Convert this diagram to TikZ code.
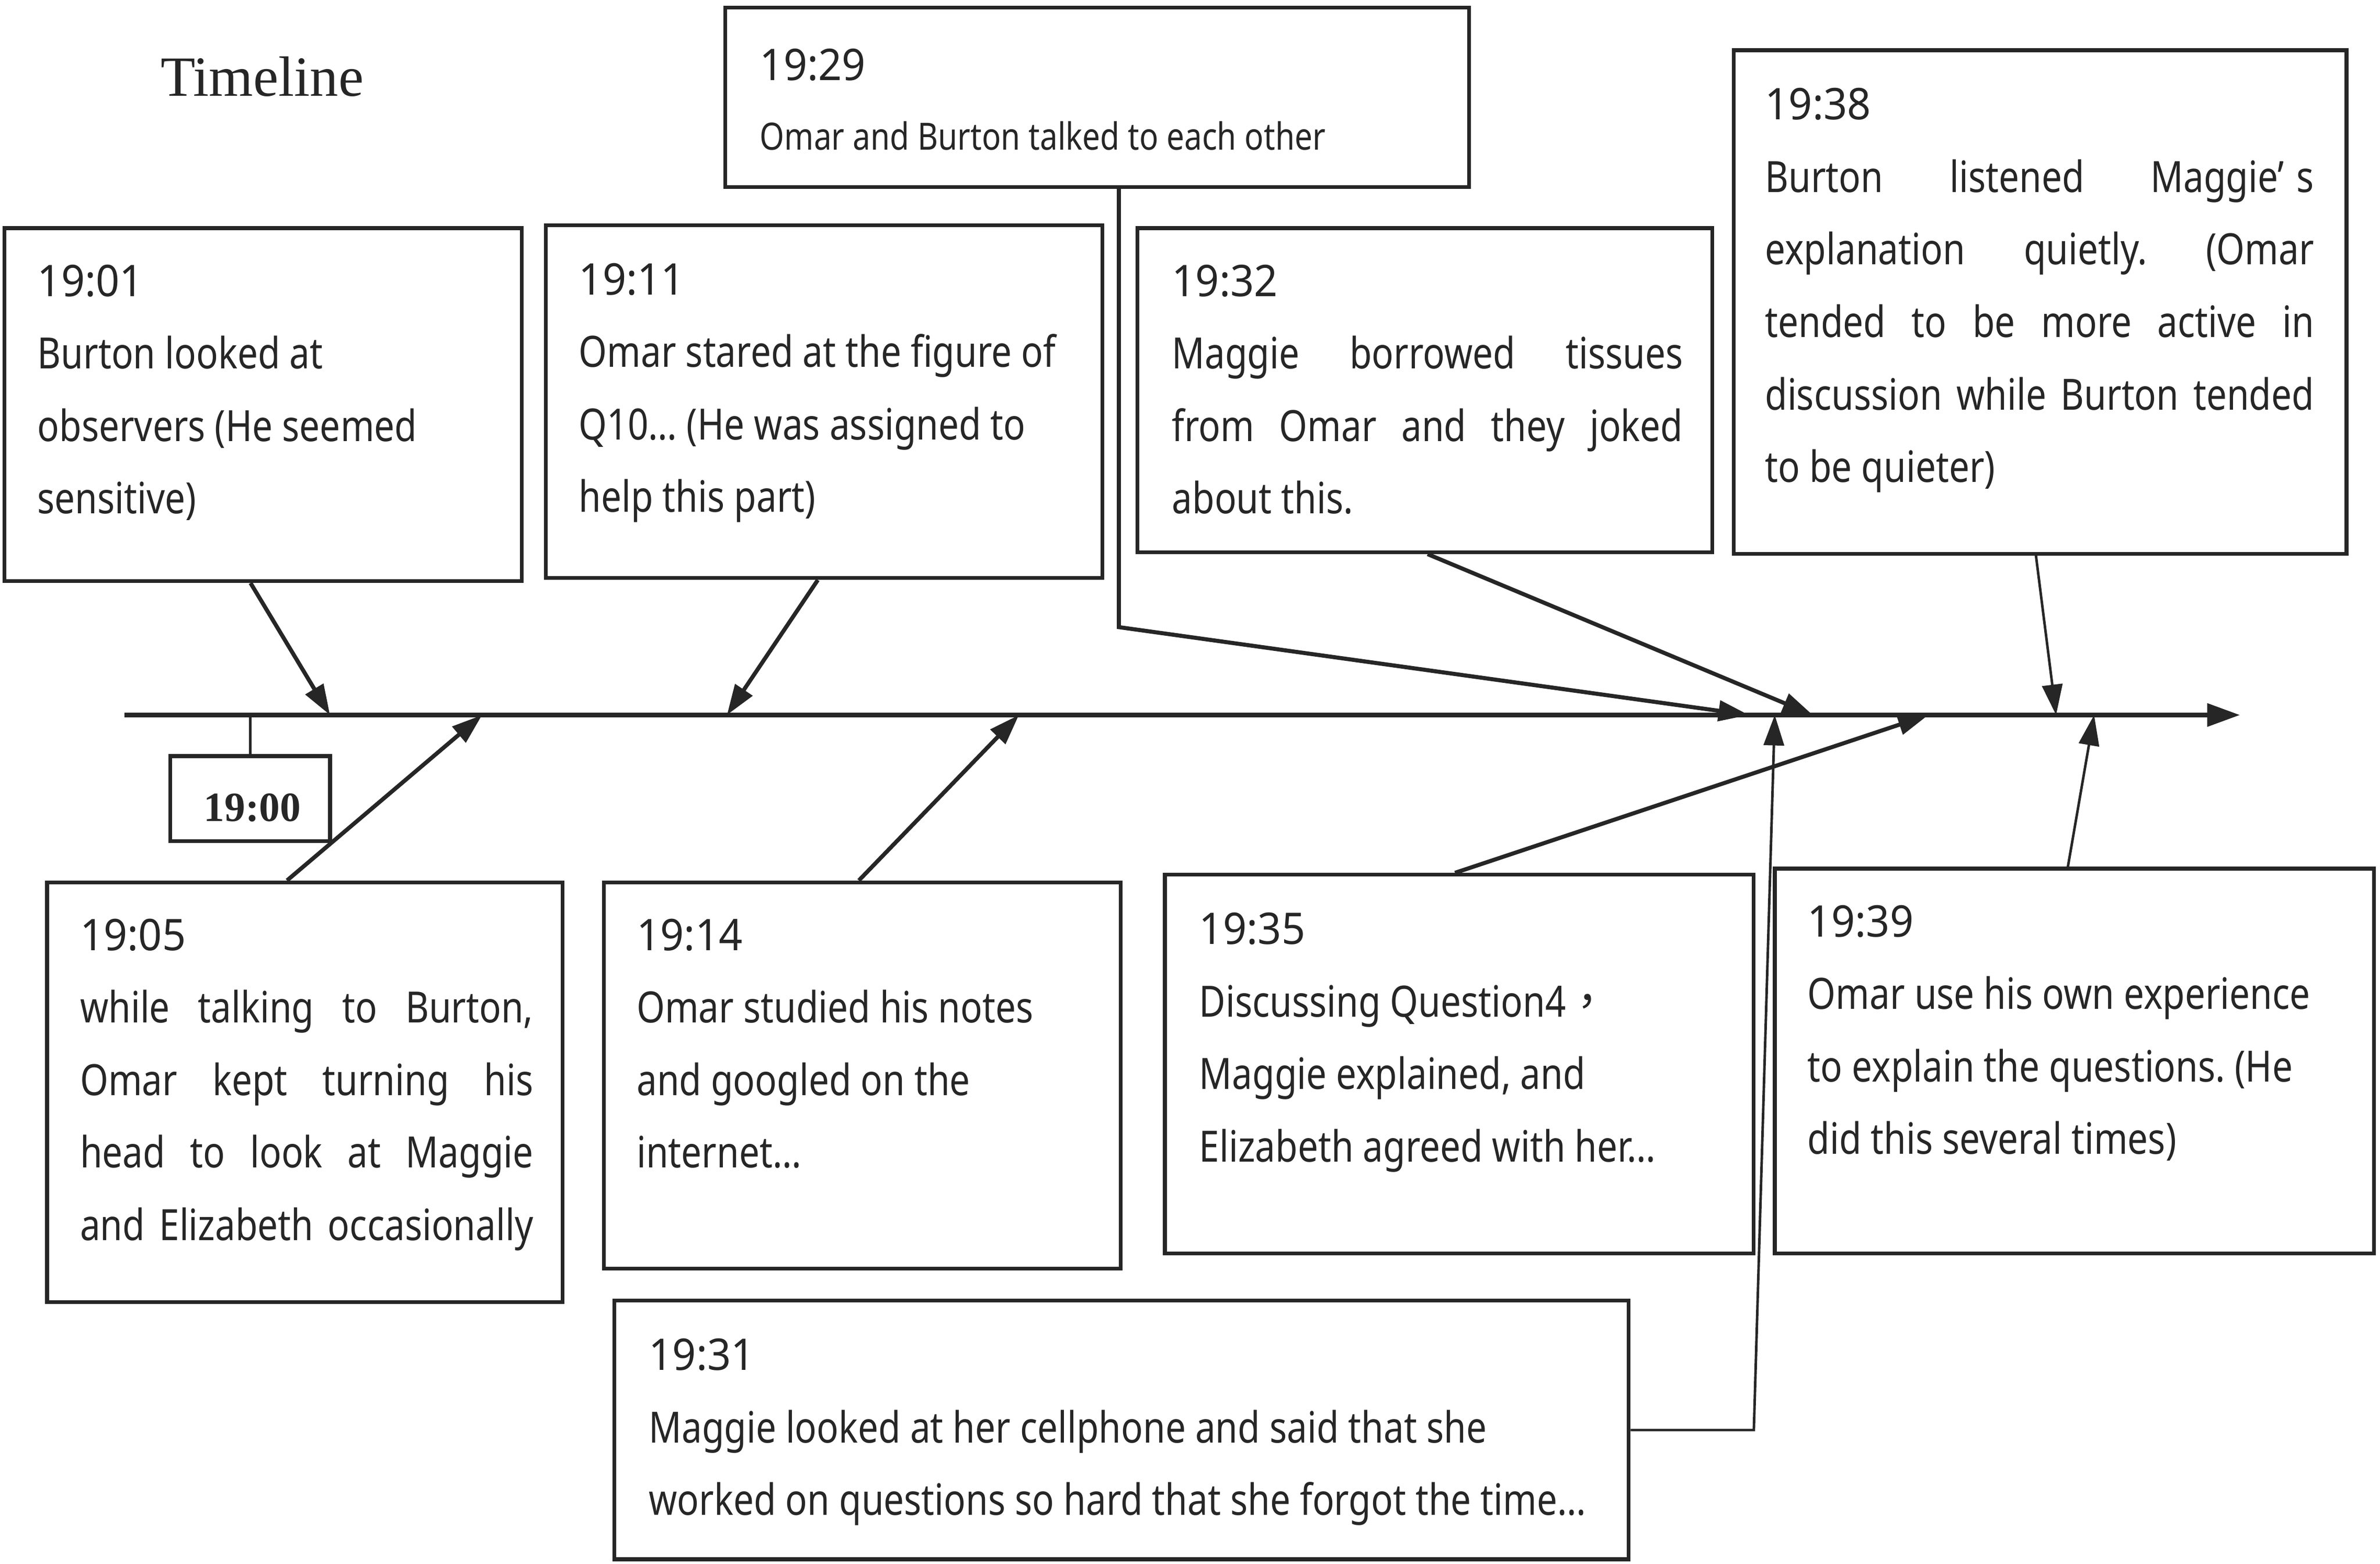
\documentclass[tikz,border=0pt]{standalone}
\usepackage{fontspec}
\setmainfont{Noto Sans}[FakeStretch=0.84]
\newfontfamily\tsfont{Noto Sans}[FakeStretch=0.95]
\newfontfamily\seriffont{Liberation Serif}
\newfontfamily\cjk{Noto Sans CJK TC}
\usetikzlibrary{arrows.meta,fit}
\definecolor{ink}{HTML}{262626}
\newcommand\bodyfont{\fontsize{8.5}{14.3}\selectfont\frenchspacing}
\newcommand\firstline{\rule{0pt}{10pt}}
\newcommand\stamp[1]{{\tsfont\fontsize{8.6}{14.3}\selectfont #1}}
\begin{document}
\begin{tikzpicture}[x=0.3pt,y=-0.3pt,
  box/.style={draw=ink,line width=0.75pt,inner sep=0pt,fill=white},
  txt/.style={anchor=north west,inner sep=0pt,align=left,font=\bodyfont,text=ink},
  arr/.style={draw=ink,line width=0.8pt,-{Triangle[length=6pt,width=4pt]}},
  arrthin/.style={draw=ink,line width=0.5pt,-{Triangle[length=6pt,width=4pt]}},
  tline/.style={draw=ink,line width=1pt,-{Triangle[length=6.5pt,width=4.4pt]}},
  stem/.style={draw=ink,line width=0.5pt}]
\useasboundingbox[fill=white] (0,0) rectangle (1565,1027.8);

% title
\node[anchor=base west,inner sep=0pt,font=\seriffont\fontsize{11.2}{13}\selectfont,text=ink] (title) at (105,63) {Timeline};

% timeline
\coordinate (tlS) at (82,470);
\coordinate (tlE) at (1473,470);
\coordinate (p01) at (217,470);
\coordinate (p05) at (317,470);
\coordinate (p11) at (478,470);
\coordinate (p14) at (670,470);
\coordinate (p29) at (1150,470);
\coordinate (p31) at (1167,470);
\coordinate (p32) at (1192,470);
\coordinate (p35) at (1268,470);
\coordinate (p38) at (1352,470);
\coordinate (p39) at (1377,470);

% boxes
\node[box,fit={(3,150) (343,382)}] (b01) {};
\node[box,fit={(359,148) (725,380)}] (b11) {};
\node[box,fit={(477,5) (966,123)}] (b29) {};
\node[box,fit={(748,150) (1126,363)}] (b32) {};
\node[box,fit={(1140,33) (1543,364)}] (b38) {};
\node[box,fit={(31,580) (370,856)}] (b05) {};
\node[box,fit={(397,580) (737,834)}] (b14) {};
\node[box,fit={(766,575) (1153,824)}] (b35) {};
\node[box,fit={(1167,571) (1561,824)}] (b39) {};
\node[box,fit={(404,855) (1071,1025)}] (b31) {};
\node[box,fit={(112,497) (217,553)}] (b00) {};

% texts (first baseline at y+33.3)
\node[txt] (t01) at (24,160.7) {\firstline\stamp{19:01}\\Burton looked at\\observers (He seemed\\sensitive)};
\node[txt] (t11) at (380,159.7) {\firstline\stamp{19:11}\\Omar stared at the figure of\\Q10… (He was assigned to\\help this part)};
\node[txt] (t29) at (499,18.7) {\firstline\stamp{19:29}\\[-0.5pt]{\fontsize{7.4}{14.3}\selectfont Omar and Burton talked to each other}};
\node[txt] (t32) at (770,160.7) {\firstline\stamp{19:32}\\\makebox[100.8pt][s]{Maggie borrowed tissues}\\\makebox[100.8pt][s]{from Omar and they joked}\\about this.};
\node[txt] (t38) at (1160,44.7) {\firstline\stamp{19:38}\\\makebox[108.3pt][s]{Burton listened Maggie’\kern2.5pt s}\\\makebox[108.3pt][s]{explanation quietly. (Omar}\\\makebox[108.3pt][s]{tended to be more active in}\\\makebox[108.3pt][s]{discussion while Burton tended}\\to be quieter)};
\node[txt] (t05) at (52,590.7) {\firstline\stamp{19:05}\\\makebox[89.4pt][s]{while talking to Burton,}\\\makebox[89.4pt][s]{Omar kept turning his}\\\makebox[89.4pt][s]{head to look at Maggie}\\\makebox[89.4pt][s]{and Elizabeth occasionally}};
\node[txt] (t14) at (418,590.7) {\firstline\stamp{19:14}\\Omar studied his notes\\and googled on the\\internet…};
\node[txt] (t35) at (788,586.7) {\firstline\stamp{19:35}\\Discussing Question4{\cjk\fontsize{8.5}{14.3}\selectfont ，}\\Maggie explained, and\\Elizabeth agreed with her…};
\node[txt] (t39) at (1188,581.7) {\firstline\stamp{19:39}\\Omar use his own experience\\to explain the questions. (He\\did this several times)};
\node[txt] (t31) at (426,866.7) {\firstline\stamp{19:31}\\Maggie looked at her cellphone and said that she\\worked on questions so hard that she forgot the time…};
\node[anchor=center,inner sep=0pt,font=\seriffont\bfseries\fontsize{8.2}{10}\selectfont,text=ink] (n00) at (166,531) {19:00};

% main line and connectors
\draw[tline] (tlS) -- (tlE);
\draw[stem] (b00.north) -- (b00.north |- tlS);
\draw[arr] (b01.south west) ++(163,0) -- (p01);
\draw[arr] (b11.south west) ++(180,0) -- (p11);
\draw[arr] (b29.south west) ++(260,0) -- ++(0,288) -- (p29);
\draw[arr] (b32.south west) ++(192,0) -- (p32);
\draw[arrthin] (b38.south west) ++(200,0) -- (p38);
\draw[arr] (b05.north west) ++(159,0) -- (p05);
\draw[arr] (b14.north west) ++(169,0) -- (p14);
\draw[arr] (b35.north west) ++(192,0) -- (p35);
\draw[arrthin] (b39.north west) ++(194,0) -- (p39);
\draw[arrthin] (b31.east) -- ++(81,0) -- (p31);
\end{tikzpicture}
\end{document}
